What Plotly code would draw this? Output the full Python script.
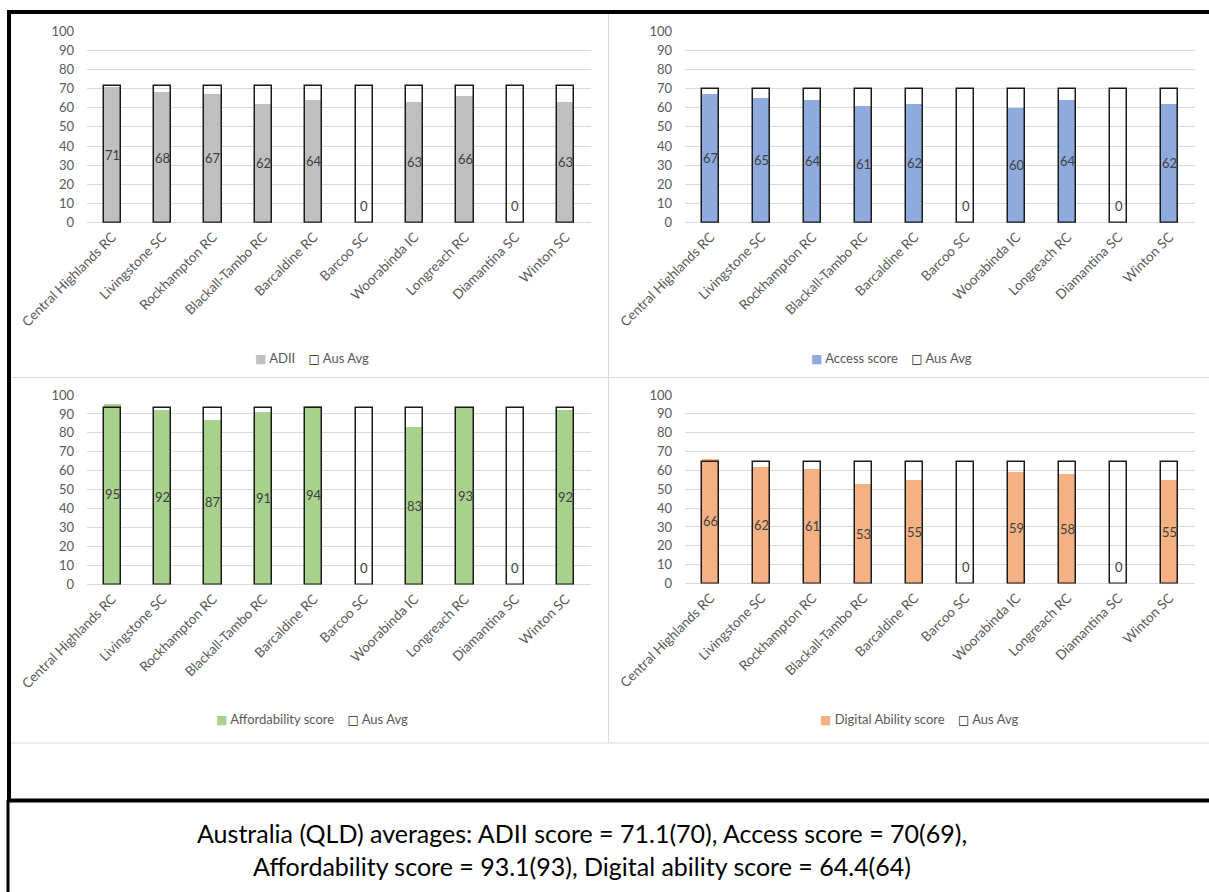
import plotly.graph_objects as go

# Councils shown on every panel
councils = ["Central Highlands RC", "Livingstone SC", "Rockhampton RC", "Blackall-Tambo RC",
            "Barcaldine RC", "Barcoo SC", "Woorabinda IC", "Longreach RC",
            "Diamantina SC", "Winton SC"]

# Scores per council
adii = [71, 68, 67, 62, 64, 0, 63, 66, 0, 63]
access = [67, 65, 64, 61, 62, 0, 60, 64, 0, 62]
affordability = [95, 92, 87, 91, 94, 0, 83, 93, 0, 92]
digital_ability = [66, 62, 61, 53, 55, 0, 59, 58, 0, 55]

# Australian averages drawn as the outlined reference bars
aus_avg_adii = 71.1
aus_avg_access = 70
aus_avg_affordability = 93.1
aus_avg_digital = 64.4

series_names = ["ADII", "Access score", "Affordability score", "Digital Ability score"]
avg_name = "Aus Avg"
y_ticks = [0, 10, 20, 30, 40, 50, 60, 70, 80, 90, 100]

caption_line1 = "Australia (QLD) averages: ADII score = 71.1(70), Access score = 70(69),"
caption_line2 = "Affordability score = 93.1(93), Digital ability score = 64.4(64)"

W, H = 1209, 892
FONT = "Lato"
GREY_TXT = "#595959"
GRID = "#D9D9D9"
OUTLINE = "#1a1a1a"


def fx(px):
    return px / W


def fy(px):
    return 1 - px / H


panels = [
    # values, avg, fill colour, plot box (left, right, top(100), bottom(0)), legend centre
    (adii, aus_avg_adii, "#BFBFBF", (87, 591, 31, 222.7), (312, 358)),
    (access, aus_avg_access, "#8FAADC", (685, 1195, 31, 222.7), (891, 358)),
    (affordability, aus_avg_affordability, "#A9D18E", (87, 591, 395, 584.5), (312, 719)),
    (digital_ability, aus_avg_digital, "#F4B183", (685, 1195, 395, 583.5), (919, 719)),
]

fig = go.Figure()
annotations = []
layout_axes = {}

for k, (vals, avg, colour, box, leg) in enumerate(panels):
    n = k + 1
    xa = "x" if n == 1 else f"x{n}"
    ya = "y" if n == 1 else f"y{n}"
    idx = list(range(len(councils)))

    fig.add_trace(go.Bar(
        x=idx, y=vals, name=series_names[k], xaxis=xa, yaxis=ya,
        marker=dict(color=colour, line=dict(width=0)), width=0.34,
        showlegend=False, hoverinfo="y",
    ))
    fig.add_trace(go.Bar(
        x=idx, y=[avg] * len(councils), name=avg_name, xaxis=xa, yaxis=ya,
        marker=dict(color="rgba(0,0,0,0)", line=dict(color=OUTLINE, width=1.5)),
        width=0.34, showlegend=False, hoverinfo="y",
    ))

    # value labels in the middle of each coloured bar
    for i, v in enumerate(vals):
        if v > 0:
            annotations.append(dict(x=i, y=v / 2, xref=xa, yref=ya, text=str(v),
                                    showarrow=False, yanchor="middle",
                                    font=dict(family=FONT, size=13, color="#404040")))
        else:
            annotations.append(dict(x=i, y=v, xref=xa, yref=ya, text=str(v),
                                    showarrow=False, yanchor="bottom", yshift=7,
                                    font=dict(family=FONT, size=13, color="#404040")))

    # compact legend line under each chart
    sq = 'font-family:DejaVu Sans;font-size:12px'
    legend_text = (f'<span style="color:{colour};{sq}">■</span>&nbsp;{series_names[k]}'
                   f'&nbsp;&nbsp;&nbsp;&nbsp;<span style="color:{OUTLINE};{sq}">□</span>&nbsp;{avg_name}')
    annotations.append(dict(x=fx(leg[0]), y=fy(leg[1]), xref="paper", yref="paper",
                            text=legend_text, showarrow=False, xanchor="center", yanchor="middle",
                            font=dict(family=FONT, size=13, color=GREY_TXT)))

    left, right, top, bottom = box
    axis_suffix = "" if n == 1 else str(n)
    layout_axes["xaxis" + axis_suffix] = dict(
        domain=[fx(left), fx(right)], anchor=ya, range=[-0.5, len(councils) - 0.5],
        tickmode="array", tickvals=idx, ticktext=councils, tickangle=-45,
        tickfont=dict(family=FONT, size=13.5, color=GREY_TXT), automargin=False,
        showgrid=False, zeroline=False, showline=False, ticks="", ticklabelstandoff=3,
    )
    layout_axes["yaxis" + axis_suffix] = dict(
        domain=[fy(bottom), fy(top)], anchor=xa, range=[0, 100],
        tickmode="array", tickvals=y_ticks, automargin=False,
        tickfont=dict(family=FONT, size=13, color=GREY_TXT),
        showgrid=True, gridcolor=GRID, gridwidth=1, zeroline=True, zerolinecolor=GRID,
        zerolinewidth=1, showline=False, ticks="", ticklabelstandoff=12,
    )

# caption below the charts
for text, ypx in ((caption_line1, 833), (caption_line2, 866)):
    annotations.append(dict(x=fx(582), y=fy(ypx), xref="paper", yref="paper", text=text,
                            showarrow=False, xanchor="center", yanchor="middle",
                            font=dict(family=FONT, size=25, color="#000000")))

shapes = [
    # light panel dividers
    dict(type="line", xref="paper", yref="paper", x0=fx(608.5), x1=fx(608.5), y0=fy(13), y1=fy(743),
         line=dict(color=GRID, width=1)),
    dict(type="line", xref="paper", yref="paper", x0=fx(11), x1=1, y0=fy(377.5), y1=fy(377.5),
         line=dict(color=GRID, width=1)),
    dict(type="line", xref="paper", yref="paper", x0=fx(11), x1=1, y0=fy(743), y1=fy(743),
         line=dict(color=GRID, width=1)),
    # heavy frame
    dict(type="line", xref="paper", yref="paper", x0=fx(7), x1=1, y0=fy(12), y1=fy(12),
         line=dict(color="#000000", width=4)),
    dict(type="line", xref="paper", yref="paper", x0=fx(9), x1=fx(9), y0=fy(10), y1=fy(802),
         line=dict(color="#000000", width=4)),
    dict(type="line", xref="paper", yref="paper", x0=fx(7), x1=1, y0=fy(800.5), y1=fy(800.5),
         line=dict(color="#000000", width=4)),
    dict(type="line", xref="paper", yref="paper", x0=fx(8), x1=fx(8), y0=fy(800), y1=0,
         line=dict(color="#000000", width=3)),
]

fig.update_layout(
    width=W, height=H, margin=dict(l=0, r=0, t=0, b=0, autoexpand=False),
    paper_bgcolor="white", plot_bgcolor="white",
    barmode="overlay", bargap=0, showlegend=False,
    annotations=annotations, shapes=shapes,
    **layout_axes,
)

fig.write_html("out.html")
